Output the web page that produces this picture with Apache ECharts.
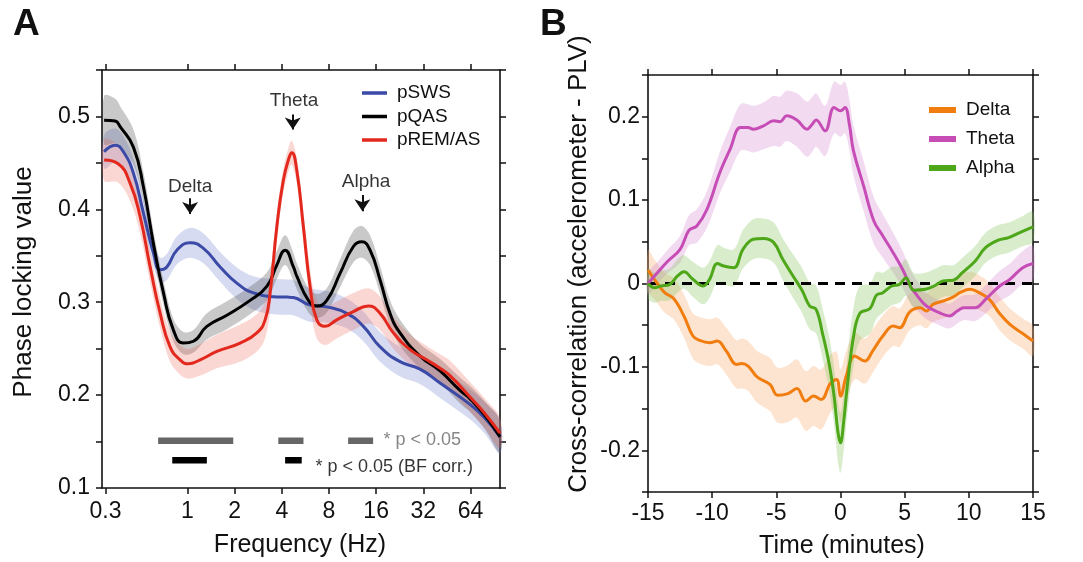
<!DOCTYPE html>
<html>
<head>
<meta charset="utf-8">
<script src="https://cdn.jsdelivr.net/npm/echarts@6/dist/echarts.min.js"></script>
<style>
html,body{margin:0;padding:0;background:#fff;}
#chart{width:1083px;height:562px;}
</style>
</head>
<body>
<div id="chart"></div>
<script>
// ---------- Panel A data (frequency in Hz, phase locking value) ----------
const freqTicks = [0.3, 1, 2, 4, 8, 16, 32, 64];

const swsF = [0.294,0.346,0.390,0.452,0.524,0.607,0.670,0.739,0.856,1.04,1.265,1.617,2.066,2.636,3.536,4.305,4.744,6.063,7.744,10.39,13.26,16.95,22.72,30.48,40.9,63.52,79.2,98.7];
const swsV = [0.462,0.469,0.462,0.439,0.396,0.353,0.335,0.338,0.356,0.364,0.358,0.338,0.3205,0.310,0.306,0.3055,0.305,0.297,0.295,0.288,0.274,0.252,0.236,0.228,0.213,0.190,0.175,0.155];
const swsE = [0.018,0.018,0.017,0.016,0.015,0.014,0.013,0.014,0.015,0.016,0.016,0.016,0.017,0.018,0.019,0.019,0.019,0.018,0.017,0.016,0.016,0.016,0.016,0.016,0.016,0.016,0.017,0.018];

const qasF = [0.294,0.346,0.372,0.452,0.524,0.607,0.703,0.814,0.943,1.092,1.33,1.784,2.511,3.209,3.717,4.199,4.744,4.986,5.914,6.689,7.744,9.415,11.45,12.95,14.63,16.95,19.62,22.72,30.48,40.9,54.87,63.52,79.2,98.7];
const qasV = [0.496,0.495,0.489,0.467,0.424,0.363,0.310,0.270,0.256,0.258,0.274,0.286,0.302,0.317,0.340,0.356,0.338,0.328,0.302,0.296,0.302,0.331,0.360,0.365,0.356,0.324,0.288,0.267,0.242,0.226,0.205,0.196,0.178,0.155];
const qasE = [0.026,0.024,0.022,0.019,0.016,0.014,0.013,0.012,0.012,0.012,0.014,0.015,0.015,0.015,0.015,0.016,0.015,0.014,0.013,0.013,0.013,0.015,0.017,0.017,0.016,0.015,0.014,0.014,0.013,0.013,0.014,0.014,0.015,0.017];

const remF = [0.294,0.361,0.431,0.499,0.578,0.670,0.775,0.898,1.015,1.205,1.54,2.169,2.771,3.13,3.369,3.717,4.095,4.472,4.633,4.986,5.494,6.063,6.689,7.553,8.97,11.45,14.27,16.95,20.6,26.32,33.64,40.9,47.37,63.52,79.2,98.7];
const remV = [0.453,0.449,0.428,0.392,0.338,0.288,0.252,0.238,0.2337,0.238,0.247,0.256,0.267,0.281,0.310,0.381,0.4315,0.4566,0.461,0.442,0.381,0.317,0.281,0.274,0.281,0.290,0.296,0.288,0.267,0.249,0.238,0.229,0.221,0.198,0.180,0.159];
const remE = [0.022,0.020,0.019,0.018,0.017,0.016,0.016,0.016,0.016,0.017,0.018,0.020,0.020,0.020,0.018,0.015,0.013,0.013,0.013,0.014,0.016,0.018,0.020,0.020,0.020,0.020,0.019,0.018,0.017,0.016,0.015,0.015,0.016,0.016,0.016,0.016];

// significance bars [start Hz, end Hz]
const sigBarsGray = [[0.65,1.96],[3.8,5.5],[10.6,15.3]];
const sigBarsBlack = [[0.80,1.33],[4.2,5.36]];
const sigGrayLevel = 0.151;
const sigBlackLevel = 0.130;

// band annotations: name, text position, arrow top and tip
const peakNames = ['Delta','Theta','Alpha'];
const peakTextF = [1.04, 4.79, 13.8];
const peakTextY = [0.4243, 0.5168, 0.4297];
const peakArrowF = [1.04, 4.70, 13.07];
const peakArrowTop = [0.4118, 0.5022, 0.4154];
const peakArrowTip = [0.3950, 0.4860, 0.3980];

// ---------- Panel B data (time in minutes, cross-correlation) ----------
const timeTicks = [-15,-10,-5,0,5,10,15];

const deltaT = [-15,-14.5,-13.7,-13.0,-12.2,-11.5,-11.0,-10.2,-9.6,-8.9,-8.1,-7.7,-7.2,-6.5,-5.5,-4.9,-4.1,-3.4,-2.7,-2.1,-1.5,-0.8,-0.3,0,0.45,1.1,1.9,2.5,3.3,4.1,4.6,5.4,6.2,6.7,7.2,8.0,8.8,9.3,10.1,10.8,11.6,12.4,13.2,14.2,15];
const deltaV = [0.016,0.005,-0.011,-0.018,-0.039,-0.063,-0.068,-0.071,-0.069,-0.081,-0.097,-0.096,-0.099,-0.112,-0.121,-0.134,-0.132,-0.126,-0.141,-0.135,-0.139,-0.12,-0.115,-0.135,-0.111,-0.087,-0.093,-0.081,-0.063,-0.051,-0.053,-0.034,-0.029,-0.033,-0.025,-0.021,-0.016,-0.011,-0.007,-0.011,-0.019,-0.036,-0.049,-0.060,-0.069];
const deltaE = [0.024,0.024,0.024,0.025,0.026,0.027,0.028,0.028,0.028,0.028,0.029,0.03,0.03,0.031,0.032,0.033,0.034,0.035,0.036,0.036,0.036,0.035,0.033,0.032,0.03,0.028,0.027,0.026,0.025,0.024,0.023,0.022,0.021,0.021,0.021,0.021,0.021,0.021,0.021,0.021,0.02,0.02,0.019,0.018,0.018];

const thetaT = [-15,-14.2,-13.5,-12.5,-11.8,-11.2,-10.4,-9.4,-8.6,-7.8,-7.2,-6.8,-6.0,-5.2,-4.7,-4.2,-3.4,-2.6,-2.2,-1.9,-1.2,-0.5,0.0,0.35,0.7,1.0,1.8,2.6,3.3,4.1,4.9,5.4,5.9,6.7,7.7,8.5,9.1,9.6,10.5,11.3,12.4,13.2,14.2,15];
const thetaV = [0.0,0.014,0.026,0.041,0.064,0.069,0.089,0.133,0.161,0.187,0.187,0.185,0.189,0.195,0.194,0.201,0.196,0.185,0.191,0.196,0.183,0.211,0.207,0.211,0.19,0.16,0.117,0.075,0.057,0.037,0.015,-0.002,-0.013,-0.027,-0.035,-0.039,-0.033,-0.029,-0.029,-0.019,-0.003,0.005,0.019,0.024];
const thetaE = [0.012,0.013,0.014,0.016,0.018,0.02,0.022,0.025,0.027,0.028,0.028,0.028,0.028,0.03,0.03,0.03,0.032,0.033,0.033,0.032,0.03,0.031,0.031,0.031,0.03,0.03,0.03,0.028,0.026,0.024,0.022,0.02,0.018,0.016,0.015,0.015,0.015,0.015,0.016,0.017,0.018,0.019,0.02,0.021];

const alphaT = [-15,-14.5,-14.0,-13.3,-12.7,-12.2,-11.5,-10.7,-10.2,-9.6,-9.1,-8.3,-7.6,-6.8,-6.0,-5.2,-4.5,-3.7,-3.0,-2.4,-1.9,-1.4,-0.9,-0.5,-0.2,0,0.25,0.55,1.0,1.5,2.3,2.8,3.3,4.0,4.6,5.1,5.7,6.6,7.3,8.0,8.8,9.5,10.5,11.3,12.3,13.1,14.1,15];
const alphaV = [0,-0.005,-0.003,-0.001,0.009,0.014,0.005,-0.003,0.005,0.024,0.021,0.019,0.041,0.053,0.054,0.049,0.029,0.009,-0.008,-0.027,-0.031,-0.06,-0.095,-0.135,-0.178,-0.191,-0.165,-0.12,-0.065,-0.036,-0.03,-0.014,-0.011,-0.003,-0.001,0.007,-0.008,-0.007,-0.003,0.003,0.004,0.013,0.027,0.043,0.052,0.055,0.062,0.068];
const alphaE = [0.018,0.018,0.018,0.019,0.02,0.02,0.021,0.022,0.022,0.022,0.022,0.022,0.023,0.024,0.024,0.024,0.025,0.026,0.027,0.028,0.029,0.03,0.032,0.034,0.036,0.036,0.035,0.034,0.035,0.033,0.03,0.028,0.024,0.023,0.022,0.022,0.021,0.02,0.02,0.019,0.018,0.018,0.018,0.018,0.018,0.018,0.018,0.018];

const zeroT = [-15, 15];
const zeroV = [0, 0];

// ---------- helpers ----------
const FONT = "'Liberation Sans', Arial, Helvetica, sans-serif";
const lg = f => Math.log2(f);

function band(xs, ys, es, color, idx) {
  const data = xs.map((x, i) => [x, ys[i] - es[i], ys[i] + es[i]]);
  return {
    type: 'custom', xAxisIndex: idx, yAxisIndex: idx, silent: true, z: 1,
    data: data, encode: { x: 0, y: [1, 2] },
    renderItem: function (params, api) {
      if (params.dataIndex !== 0) return null;
      const up = data.map(d => api.coord([d[0], d[2]]));
      const lo = data.map(d => api.coord([d[0], d[1]])).reverse();
      return { type: 'polygon', shape: { points: up.concat(lo), smooth: 0.35 }, style: { fill: color } };
    }
  };
}
function line(name, xs, ys, color, idx, width, smooth) {
  return {
    type: 'line', name: name, xAxisIndex: idx, yAxisIndex: idx, color: color,
    data: xs.map((x, i) => [x, ys[i]]), smooth: smooth, symbol: 'none', z: 4,
    lineStyle: { width: width, color: color }, silent: true
  };
}
function axisBase(extra) {
  return Object.assign({
    axisLine: { onZero: false, lineStyle: { color: '#111', width: 1.6 } },
    axisTick: { inside: false, length: 6, lineStyle: { color: '#111', width: 1.5 } },
    splitLine: { show: false },
    axisLabel: { color: '#111', fontSize: 23, fontFamily: FONT }
  }, extra);
}

const lgF = v => lg(v);
const swsX = swsF.map(lgF), qasX = qasF.map(lgF), remX = remF.map(lgF);
const xTickVals = freqTicks.map(lgF);
const fmtFreq = v => String(Number(Math.pow(2, v).toPrecision(2)));
const fmtY1 = v => (Math.abs(v * 10 - Math.round(v * 10)) < 1e-6 ? v.toFixed(1) : '');
const fmtY2 = v => {
  if (Math.abs(v * 10 - Math.round(v * 10)) > 1e-6) return '';
  if (Math.abs(v) < 1e-9) return '0';
  return v.toFixed(1);
};

const series = [
  band(swsX, swsV, swsE, 'rgba(120,135,210,0.30)', 0),
  band(qasX, qasV, qasE, 'rgba(60,60,60,0.28)', 0),
  band(remX, remV, remE, 'rgba(235,95,80,0.25)', 0),
  line('pSWS', swsX, swsV, '#3a4aa6', 0, 3, 0.5),
  line('pQAS', qasX, qasV, '#000000', 0, 3, 0.5),
  line('pREM/AS', remX, remV, '#e3281d', 0, 3, 0.5)
];
sigBarsGray.forEach(b => series.push({
  type: 'line', xAxisIndex: 0, yAxisIndex: 0, symbol: 'none', silent: true, z: 3,
  data: [[lg(b[0]), sigGrayLevel], [lg(b[1]), sigGrayLevel]],
  lineStyle: { width: 6.5, color: '#666666', cap: 'butt' }
}));
sigBarsBlack.forEach(b => series.push({
  type: 'line', xAxisIndex: 0, yAxisIndex: 0, symbol: 'none', silent: true, z: 3,
  data: [[lg(b[0]), sigBlackLevel], [lg(b[1]), sigBlackLevel]],
  lineStyle: { width: 6.5, color: '#000000', cap: 'butt' }
}));
// peak labels and arrows
series.push({
  type: 'scatter', xAxisIndex: 0, yAxisIndex: 0, symbolSize: 1, silent: true, z: 5,
  itemStyle: { color: 'transparent' },
  data: peakNames.map((n, i) => ({ name: n, value: [lg(peakTextF[i]), peakTextY[i]] })),
  label: { show: true, position: 'inside', formatter: '{b}', fontSize: 19, fontFamily: FONT,
    color: '#000', textBorderWidth: 0, textBorderColor: 'transparent' }
});
series.push({
  type: 'line', xAxisIndex: 0, yAxisIndex: 0, data: [], silent: true, z: 5,
  markLine: {
    silent: true, symbol: ['none', 'arrow'], symbolSize: 12,
    label: { show: false }, animation: false,
    lineStyle: { color: '#111', width: 2, type: 'solid', opacity: 1 },
    emphasis: { disabled: true },
    data: peakNames.map((n, i) => [{ coord: [lg(peakArrowF[i]), peakArrowTop[i]] }, { coord: [lg(peakArrowF[i]), peakArrowTip[i]] }])
  }
});
// significance texts
series.push({
  type: 'scatter', xAxisIndex: 0, yAxisIndex: 0, symbolSize: 1, silent: true, z: 5,
  itemStyle: { color: 'transparent' },
  data: [
    { name: '* p < 0.05', value: [lg(17.7), 0.1515], label: { color: '#666666' } },
    { name: '* p < 0.05 (BF corr.)', value: [lg(6.52), 0.1228], label: { color: '#000000' } }
  ],
  label: { show: true, position: 'right', distance: 0, formatter: '{b}', fontSize: 18, fontFamily: FONT,
    textBorderWidth: 0, textBorderColor: 'transparent' }
});

// Panel B
series.push(band(deltaT, deltaV, deltaE, 'rgba(248,170,110,0.32)', 1));
series.push(band(thetaT, thetaV, thetaE, 'rgba(215,140,210,0.32)', 1));
series.push(band(alphaT, alphaV, alphaE, 'rgba(130,195,90,0.30)', 1));
series.push({
  type: 'line', xAxisIndex: 1, yAxisIndex: 1, symbol: 'none', silent: true, z: 3,
  data: zeroT.map((t, i) => [t, zeroV[i]]),
  lineStyle: { color: '#000', width: 3, type: [10, 7] }
});
series.push(line('Delta', deltaT, deltaV, '#f07d0e', 1, 3, 0.4));
series.push(line('Theta', thetaT, thetaV, '#c64db6', 1, 3, 0.4));
series.push(line('Alpha', alphaT, alphaV, '#4ea619', 1, 3, 0.4));

const option = {
  animation: false,
  backgroundColor: '#ffffff',
  textStyle: { fontFamily: FONT },
  grid: [
    { left: 102, top: 70, width: 398, height: 418, show: false },
    { left: 648, top: 75, width: 385, height: 417, show: false }
  ],
  xAxis: [
    axisBase({ type: 'value', gridIndex: 0, position: 'bottom', min: lg(0.285), max: lg(98.7),
      axisTick: { inside: false, length: 6, customValues: xTickVals, lineStyle: { color: '#111', width: 1.5 } },
      axisLabel: { color: '#111', fontSize: 23, fontFamily: FONT, margin: 12, customValues: xTickVals, formatter: fmtFreq } }),
    axisBase({ type: 'value', gridIndex: 1, position: 'bottom', min: -15, max: 15, interval: 5,
      axisLabel: { color: '#111', fontSize: 23, fontFamily: FONT, margin: 10 } }),
    axisBase({ type: 'value', gridIndex: 0, position: 'top', min: lg(0.285), max: lg(98.7),
      axisTick: { inside: false, length: 6, customValues: xTickVals, lineStyle: { color: '#111', width: 1.5 } },
      axisLabel: { show: false, customValues: xTickVals } }),
    axisBase({ type: 'value', gridIndex: 1, position: 'top', min: -15, max: 15, interval: 5,
      axisLabel: { show: false } })
  ],
  yAxis: [
    axisBase({ type: 'value', gridIndex: 0, position: 'left', min: 0.1, max: 0.55, interval: 0.05,
      axisLabel: { color: '#111', fontSize: 23, fontFamily: FONT, margin: 12, formatter: fmtY1 } }),
    axisBase({ type: 'value', gridIndex: 1, position: 'left', min: -0.25, max: 0.25, interval: 0.05,
      axisLabel: { color: '#111', fontSize: 23, fontFamily: FONT, margin: 8, formatter: fmtY2 } }),
    axisBase({ type: 'value', gridIndex: 0, position: 'right', min: 0.1, max: 0.55, interval: 0.05,
      axisLabel: { show: false } }),
    axisBase({ type: 'value', gridIndex: 1, position: 'right', min: -0.25, max: 0.25, interval: 0.05,
      axisLabel: { show: false } })
  ],
  legend: [
    { data: ['pSWS', 'pQAS', 'pREM/AS'], orient: 'vertical', left: 362, top: 83.5, padding: 0,
      itemWidth: 25, itemHeight: 3.5, itemGap: 4.5, icon: 'rect', selectedMode: false,
      textStyle: { fontSize: 19, fontFamily: FONT, color: '#111', padding: [0, 0, 0, 5] } },
    { data: ['Delta', 'Theta', 'Alpha'], orient: 'vertical', left: 929, top: 100.5, padding: 0,
      itemWidth: 27, itemHeight: 6, itemGap: 10, icon: 'rect', selectedMode: false,
      textStyle: { fontSize: 19, fontFamily: FONT, color: '#111', padding: [0, 0, 0, 5] } }
  ],
  graphic: [
    { type: 'text', x: 13, y: 25, style: { text: 'A', font: 'bold 37px ' + FONT, fill: '#111', textAlign: 'left', textVerticalAlign: 'middle' } },
    { type: 'text', x: 540, y: 25, style: { text: 'B', font: 'bold 37px ' + FONT, fill: '#111', textAlign: 'left', textVerticalAlign: 'middle' } },
    { type: 'text', x: 24, y: 282, rotation: Math.PI / 2, style: { text: 'Phase locking value', font: '26px ' + FONT, fill: '#111', textAlign: 'center', textVerticalAlign: 'middle' } },
    { type: 'text', x: 579, y: 264, rotation: Math.PI / 2, style: { text: 'Cross-correlation (accelerometer - PLV)', font: '26px ' + FONT, fill: '#111', textAlign: 'center', textVerticalAlign: 'middle' } },
    { type: 'text', x: 300, y: 545, style: { text: 'Frequency (Hz)', font: '25px ' + FONT, fill: '#111', textAlign: 'center', textVerticalAlign: 'middle' } },
    { type: 'text', x: 842, y: 546, style: { text: 'Time (minutes)', font: '25px ' + FONT, fill: '#111', textAlign: 'center', textVerticalAlign: 'middle' } }
  ],
  series: series
};

const chart = echarts.init(document.getElementById('chart'), null, { renderer: 'canvas' });
chart.setOption(option);
</script>
</body>
</html>
